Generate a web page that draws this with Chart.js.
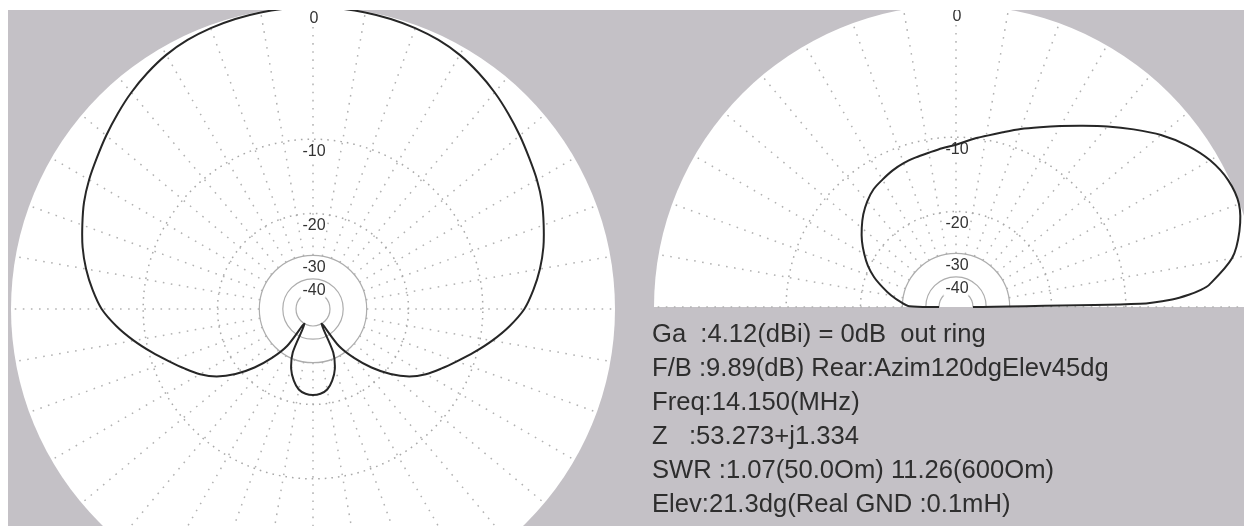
<!DOCTYPE html>
<html>
<head>
<meta charset="utf-8">
<script src="https://cdn.jsdelivr.net/npm/chart.js@4.4.1/dist/chart.umd.min.js"></script>
<style>
  html, body { margin: 0; padding: 0; background: #fff; }
  #page  { position: relative; width: 1244px; height: 526px; overflow: hidden; background: #fff; }
  #frame { position: absolute; left: 8px; top: 10px; width: 1236px; height: 516px; background: #c4c1c6; }
  canvas { position: absolute; }
  #info  { position: absolute; left: 652px; top: 316px; font: 25.6px 'Liberation Sans', Arial, sans-serif;
           color: #2e2e2e; line-height: 34px; white-space: pre; }
</style>
</head>
<body>
<div id="page">
  <div id="frame"></div>
  <canvas id="azimuth" width="628" height="516" style="left:8px;top:10px"></canvas>
  <canvas id="elevation" width="608" height="516" style="left:636px;top:10px"></canvas>
  <div id="info"></div>
</div>
<script>
// azimuth pattern, degrees from the front, one side (mirrored for the other)
const azimuthDeg = [0, 5, 10, 15, 20, 25, 30, 35, 40, 45, 50, 55, 60, 65, 70, 75, 80, 85, 90,
                    95, 100, 105, 110, 115, 120, 125, 130, 135, 140, 145, 150, 155, 160, 165, 170, 175, 180];
const azimuthDb  = [0, -0.02, -0.05, -0.1, -0.18, -0.3, -0.5, -0.8, -1.15, -1.55, -1.95, -2.35, -2.7, -3.1, -3.6, -4.1, -4.7, -5.4, -6.2,
                    -7.4, -8.8, -10.3, -11.8, -13.2, -14.6, -16.4, -19.0, -22.5, -27, -33, -50, -32, -27, -24.4, -22.7, -22.0, -21.8];

// elevation pattern, degrees above the horizon (0 = right, 180 = left)
const elevationDeg = [0, 1, 2, 3, 4, 5, 10, 15, 20, 25, 30, 35, 40, 45, 50, 55, 60, 65, 70, 75, 80, 85, 90,
                      95, 100, 105, 110, 115, 120, 125, 130, 135, 140, 145, 150, 155, 160, 165, 170, 175, 179, 180];
const elevationDb  = [-50, -8.6, -5.8, -4.5, -3.6, -3.0, -1.3, -0.5, -0.05, -0.1, -0.5, -1.2, -2.1, -3.2, -4.3, -5.4, -6.4, -7.3, -8.1, -8.9, -9.6, -10.2, -10.8,
                      -11.1, -11.4, -11.6, -11.8, -12.1, -12.5, -12.9, -13.6, -14.5, -15.6, -16.8, -18.2, -19.7, -21.6, -24.0, -26.5, -29.5, -32.5, -50];

const ringDb     = [0, -10, -20, -30, -40];
const ringLabels = ['0', '-10', '-20', '-30', '-40'];
const FLOOR_DB   = -50;

const infoLines = [
  'Ga  :4.12(dBi) = 0dB  out ring',
  'F/B :9.89(dB) Rear:Azim120dgElev45dg',
  'Freq:14.150(MHz)',
  'Z   :53.273+j1.334',
  'SWR :1.07(50.0Om) 11.26(600Om)',
  'Elev:21.3dg(Real GND :0.1mH)',
];

// MMANA style radius: 0 dB on the outer ring, 10 dB = factor 10^0.25
const rad = db => Math.pow(10, Math.max(db, FLOOR_DB) / 40);
const toRad = d => d * Math.PI / 180;

document.getElementById('info').textContent = infoLines.join('\n');

const polarGrid = {
  id: 'polarGrid',
  beforeDatasetsDraw(chart, args, opts) {
    const { ctx, scales: { x, y } } = chart;
    const cx = x.getPixelForValue(0), cy = y.getPixelForValue(0);
    const R = x.getPixelForValue(1) - cx;
    const half = opts.half;
    ctx.save();

    // white plot face
    ctx.fillStyle = '#fff';
    ctx.beginPath();
    if (half) { ctx.moveTo(cx + R, cy); ctx.arc(cx, cy, R, 0, Math.PI, true); ctx.closePath(); }
    else ctx.arc(cx, cy, R, 0, 2 * Math.PI);
    ctx.fill();

    // spokes every 10 degrees, from the -30 ring outward
    const rIn = rad(-30) * R;
    ctx.strokeStyle = '#b2b2b2';
    ctx.lineWidth = 1.5;
    ctx.setLineDash([1.6, 6.5]);
    const nSpokes = half ? 18 : 35;
    for (let i = 0; i <= nSpokes; i++) {
      const a = toRad(i * 10);
      ctx.beginPath();
      ctx.moveTo(cx + rIn * Math.cos(a), cy - rIn * Math.sin(a));
      ctx.lineTo(cx + R * Math.cos(a), cy - R * Math.sin(a));
      ctx.stroke();
    }

    // rings
    const end = half ? Math.PI : 2 * Math.PI;
    [-10, -20, -30, -40, FLOOR_DB].forEach(db => {
      const dotted = db > -30;
      ctx.setLineDash(dotted ? [1.6, 5] : []);
      ctx.strokeStyle = dotted ? '#a8a8a8' : '#adadad';
      ctx.lineWidth = dotted ? 1.5 : 1.2;
      ctx.beginPath();
      ctx.arc(cx, cy, rad(db) * R, 0, -end, true);
      ctx.stroke();
    });
    ctx.setLineDash([]);

    // ring labels on the vertical axis
    ctx.font = '16px "Liberation Sans", Arial, sans-serif';
    ctx.textAlign = 'center';
    ctx.textBaseline = 'middle';
    ringDb.forEach((db, i) => {
      const ly = cy - rad(db) * R + 12;
      const w = ctx.measureText(ringLabels[i]).width;
      ctx.fillStyle = '#fff';
      ctx.fillRect(cx - w / 2 - 1, ly - 7, w + 2, 14);
      ctx.fillStyle = '#333';
      ctx.fillText(ringLabels[i], cx + 1, ly);
    });
    ctx.restore();
  }
};

function polarChart(id, points, centre, R, half) {
  const cv = document.getElementById(id);
  const W = cv.width, H = cv.height;
  return new Chart(cv, {
    type: 'scatter',
    data: {
      datasets: [{
        data: points,
        showLine: true,
        borderColor: '#262626',
        borderWidth: 2,
        pointRadius: 0,
        tension: 0.3,
        fill: false,
      }],
    },
    options: {
      responsive: false,
      animation: false,
      events: [],
      layout: { padding: 0 },
      elements: { line: { capBezierPoints: false } },
      plugins: { legend: { display: false }, tooltip: { enabled: false }, polarGrid: { half } },
      scales: {
        x: { type: 'linear', display: false, min: -centre[0] / R, max: (W - centre[0]) / R },
        y: { type: 'linear', display: false, min: -(H - centre[1]) / R, max: centre[1] / R },
      },
    },
    plugins: [polarGrid],
  });
}

// azimuth: 0 deg points up, pattern mirrored left/right
const azPts = [];
azimuthDeg.forEach((d, i) => {
  const r = rad(azimuthDb[i]);
  azPts.push({ x: r * Math.sin(toRad(d)), y: r * Math.cos(toRad(d)) });
});
for (let i = azimuthDeg.length - 2; i >= 0; i--) {
  const r = rad(azimuthDb[i]);
  azPts.push({ x: -r * Math.sin(toRad(azimuthDeg[i])), y: r * Math.cos(toRad(azimuthDeg[i])) });
}

const elPts = elevationDeg.map((d, i) => {
  const r = rad(elevationDb[i]);
  return { x: r * Math.cos(toRad(d)), y: r * Math.sin(toRad(d)) };
});

polarChart('azimuth', azPts, [305, 299], 302, false);
polarChart('elevation', elPts, [320, 297], 302, true);
</script>
</body>
</html>
